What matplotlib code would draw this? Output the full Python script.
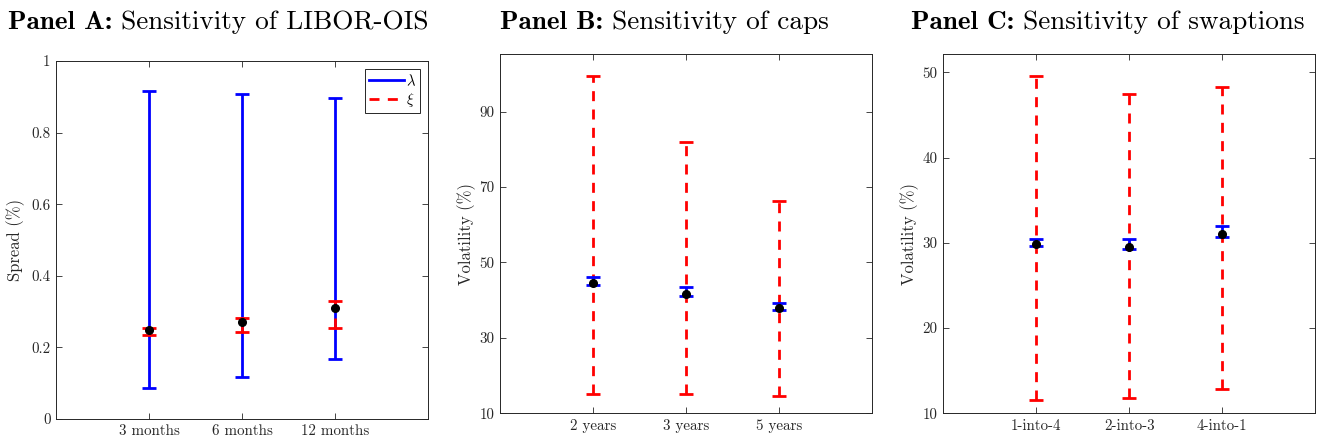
import matplotlib
matplotlib.use("Agg")
import matplotlib.pyplot as plt
from matplotlib.lines import Line2D
import numpy as np

plt.rcParams['font.family'] = 'cmr10'
plt.rcParams['mathtext.fontset'] = 'cm'
plt.rcParams['axes.formatter.use_mathtext'] = True

# Panel A: LIBOR-OIS spread (%)
a_labels = ['3 months', '6 months', '12 months']
a_lam_lo = [0.088, 0.117, 0.168]
a_lam_hi = [0.915, 0.909, 0.898]
a_xi_lo = [0.235, 0.242, 0.254]
a_xi_hi = [0.255, 0.283, 0.330]
a_mid = [0.250, 0.272, 0.310]

# Panel B: caps volatility (%)
b_labels = ['2 years', '3 years', '5 years']
b_lam_lo = [44.0, 41.1, 37.4]
b_lam_hi = [46.2, 43.4, 39.3]
b_xi_lo = [15.0, 15.0, 14.6]
b_xi_hi = [99.4, 82.0, 66.4]
b_mid = [44.5, 41.6, 37.8]

# Panel C: swaptions volatility (%)
c_labels = ['1-into-4', '2-into-3', '4-into-1']
c_lam_lo = [29.6, 29.3, 30.7]
c_lam_hi = [30.5, 30.4, 32.0]
c_xi_lo = [11.5, 11.8, 12.8]
c_xi_hi = [49.6, 47.4, 48.3]
c_mid = [29.8, 29.5, 31.0]

AXC = '#262626'
DASH = (0, (3.6, 3.0))


def range_bar(ax, x, lo, hi, color, dashed):
    lo = np.array(lo)
    hi = np.array(hi)
    eb = ax.errorbar(x, (lo + hi) / 2, yerr=(hi - lo) / 2, fmt='none',
                     ecolor=color, elinewidth=2, capsize=5.2, capthick=2)
    if dashed:
        eb[2][0].set_linestyle(DASH)
    return eb


def style_axes(ax, labels, ylabel, ylim, yticks, yticklabels, lx):
    ax.set_xlim(0, 4)
    ax.set_ylim(*ylim)
    ax.set_xticks([1, 2, 3])
    ax.set_xticklabels(labels)
    ax.set_yticks(yticks)
    ax.set_yticklabels(yticklabels)
    ax.tick_params(direction='in', length=4, width=0.6, colors=AXC,
                   labelsize=10.8, top=True, right=True, pad=4)
    for s in ax.spines.values():
        s.set_color(AXC)
        s.set_linewidth(0.7)
    ax.set_ylabel(ylabel, fontsize=12, color=AXC)
    ax.yaxis.set_label_coords(lx, 0.5)


def panel(ax, lam_lo, lam_hi, xi_lo, xi_hi, mid, lam_first):
    x = [1, 2, 3]
    if lam_first:
        range_bar(ax, x, lam_lo, lam_hi, 'blue', False)
        range_bar(ax, x, xi_lo, xi_hi, 'red', True)
    else:
        range_bar(ax, x, xi_lo, xi_hi, 'red', True)
        range_bar(ax, x, lam_lo, lam_hi, 'blue', False)
    ax.plot(x, mid, 'o', color='black', markersize=5.5, zorder=5)


fig = plt.figure(figsize=(13.2, 4.42), dpi=100)

axA = fig.add_axes([0.0424, 0.052, 0.2818, 0.810])
axB = fig.add_axes([0.3788, 0.065, 0.2818, 0.812])
axC = fig.add_axes([0.7146, 0.065, 0.2818, 0.812])

panel(axA, a_lam_lo, a_lam_hi, a_xi_lo, a_xi_hi, a_mid, True)
style_axes(axA, a_labels, 'Spread (%)', (0, 1), [0, 0.2, 0.4, 0.6, 0.8, 1],
           ['0', '0.2', '0.4', '0.6', '0.8', '1'], -0.083)
handles = [Line2D([], [], color='blue', lw=2),
           Line2D([], [], color='red', lw=2, linestyle=DASH)]
leg = axA.legend(handles, [r'$\lambda$', r'$\xi$'], loc='upper right',
                 fontsize=10.5, fancybox=False, framealpha=1, edgecolor=AXC,
                 handlelength=2.4, handletextpad=0.15, borderpad=0.25,
                 labelspacing=0.2, borderaxespad=0.55)
leg.get_frame().set_linewidth(0.7)

panel(axB, b_lam_lo, b_lam_hi, b_xi_lo, b_xi_hi, b_mid, False)
style_axes(axB, b_labels, 'Volatility (%)', (10, 105.2), [10, 30, 50, 70, 90],
           ['10', '30', '50', '70', '90'], -0.064)

panel(axC, c_lam_lo, c_lam_hi, c_xi_lo, c_xi_hi, c_mid, False)
style_axes(axC, c_labels, 'Volatility (%)', (10, 52.1), [10, 20, 30, 40, 50],
           ['10', '20', '30', '40', '50'], -0.064)

# titles: bold "Panel X:" followed by roman text, centred as a whole
titles = [(218, 'Panel A:', 'Sensitivity of LIBOR-OIS'),
          (664, 'Panel B:', 'Sensitivity of caps'),
          (1108, 'Panel C:', 'Sensitivity of swaptions')]
renderer = fig.canvas.get_renderer()
ty = 1 - 29 / 442
for xc, head, rest in titles:
    t1 = fig.text(0, ty, head, family='cmb10', fontsize=19.6,
                  ha='left', va='baseline')
    t2 = fig.text(0, ty, ' ' + rest, family='cmr10', fontsize=19.6,
                  ha='left', va='baseline')
    w1 = t1.get_window_extent(renderer).width
    w2 = t2.get_window_extent(renderer).width
    x0 = xc - (w1 + w2) / 2
    t1.set_x(x0 / 1320)
    t2.set_x((x0 + w1) / 1320)

fig.savefig('out.png', dpi=100)
